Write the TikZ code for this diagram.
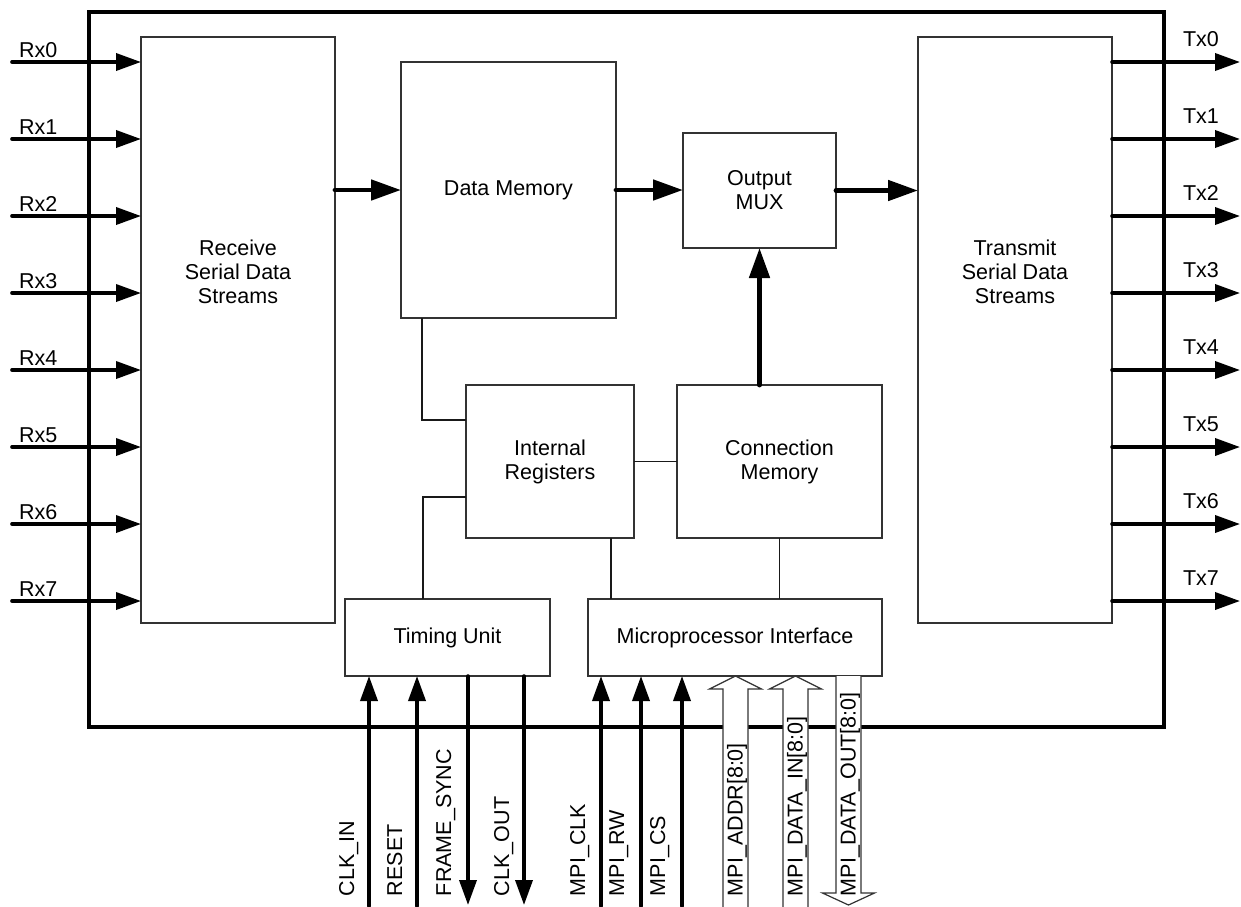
\documentclass[tikz,border=0pt]{standalone}
\usepackage{fontspec}
\setmainfont{Liberation Sans}
\usetikzlibrary{arrows.meta}
\begin{document}
\begin{tikzpicture}[x=1pt,y=-1pt,
  font=\fontsize{21.5}{24}\selectfont,
  box/.style={draw=black!80, line width=1.3pt, inner sep=0pt, outer sep=0pt, align=center},
  chipframe/.style={draw=black, line width=4pt, inner sep=0pt, outer sep=0pt},
  conn/.style={draw=black!90, line width=1.3pt},
  sig/.style={line width=3.6pt, line cap=round, -{Triangle[length=25pt,width=17pt]}},
  bus/.style={line width=4.8pt, line cap=round, -{Triangle[length=30pt,width=20pt]}},
  hollow/.style={draw=black!80, line width=1.2pt, fill=white, line join=miter},
  lbl/.style={inner sep=0pt, outer sep=0pt},
  vlbl/.style={inner sep=0pt, outer sep=0pt, rotate=90, anchor=base west}
]
\useasboundingbox (0,0) rectangle (1241,906);

% outer frame
\node[chipframe, minimum width=1075pt, minimum height=715pt] (chip) at (626.5,369.5) {};

% blocks
\node[box, minimum width=194pt, minimum height=586pt] (recv) at (238,330) {};
\node[lbl, align=center] (recvtxt) at (238,272) {Receive\\Serial Data\\Streams};
\node[box, minimum width=194pt, minimum height=586pt] (trans) at (1015,330) {};
\node[lbl, align=center] (transtxt) at (1015,272) {Transmit\\Serial Data\\Streams};
\node[box, minimum width=215pt, minimum height=256pt] (dmem) at (508.5,190) {Data Memory};
\node[box, minimum width=153pt, minimum height=115pt] (mux) at (759.5,190.5) {Output\\MUX};
\node[box, minimum width=168pt, minimum height=153pt] (ireg) at (550,461.5) {Internal\\Registers};
\node[box, minimum width=205pt, minimum height=153pt] (cmem) at (779.5,461.5) {Connection\\Memory};
\node[box, minimum width=205pt, minimum height=77pt] (timing) at (447.5,637.5) {Timing Unit};
\node[box, minimum width=294pt, minimum height=77pt] (mpi) at (735,637.5) {Microprocessor Interface};

% thin connectors
\coordinate (b1) at (422,420);
\coordinate (b2) at (423,497);
\coordinate (b3) at (611,0);
\draw[conn] (dmem.south -| b1) |- (ireg.west |- b1);
\draw[conn] (timing.north -| b2) |- (ireg.west |- b2);
\draw[conn] (ireg.east) -- (cmem.west);
\draw[conn] (ireg.south -| b3) -- (mpi.north -| b3);
\draw[conn] (cmem.south) -- (cmem.south |- mpi.north);

% data path
\draw[bus] (recv.east |- dmem.west) -- (dmem.west);
\draw[bus] (dmem.east) -- (mux.west |- dmem.east);
\draw[bus] (mux.east) -- (trans.west |- mux.east);
\draw[bus] (mux.south |- cmem.north) -- (mux.south);

% serial inputs and outputs
\foreach \i [evaluate=\i as \yy using 62+77*\i] in {0,...,7}{
  \coordinate (rx\i) at (12,\yy);
  \coordinate (tx\i) at (1240,\yy);
  \draw[sig] (rx\i) -- (recv.west |- rx\i);
  \draw[sig] (trans.east |- tx\i) -- (tx\i);
  \node[lbl, anchor=base west] (rxl\i) at (19,\yy-5) {Rx\i};
  \node[lbl, anchor=base west] (txl\i) at (1183,\yy-16) {Tx\i};
}

% control signals
\coordinate (clkin) at (369,906);
\coordinate (reset) at (417,906);
\coordinate (fsync) at (468,905);
\coordinate (clkout) at (524,905);
\coordinate (mclk) at (601,906);
\coordinate (mrw) at (641,906);
\coordinate (mcs) at (682,906);
\draw[sig] (clkin) -- (timing.south -| clkin);
\draw[sig] (reset) -- (timing.south -| reset);
\draw[sig] (timing.south -| fsync) -- (fsync);
\draw[sig] (timing.south -| clkout) -- (clkout);
\draw[sig] (mclk) -- (mpi.south -| mclk);
\draw[sig] (mrw) -- (mpi.south -| mrw);
\draw[sig] (mcs) -- (mpi.south -| mcs);

\node[vlbl] (lclkin) at (354,896) {CLK\_IN};
\node[vlbl] (lreset) at (402,896) {RESET};
\node[vlbl] (lfsync) at (451,896) {FRAME\_SYNC};
\node[vlbl] (lclkout) at (509,896) {CLK\_OUT};
\node[vlbl] (lmclk) at (585,896) {MPI\_CLK};
\node[vlbl] (lmrw) at (624,896) {MPI\_RW};
\node[vlbl] (lmcs) at (665,896) {MPI\_CS};

% hollow bus arrows
\draw[hollow] (723,908) -- (723,689) -- (709.5,689) -- (735.5,676) -- (761.5,689) -- (748,689) -- (748,908);
\draw[hollow] (783,908) -- (783,689) -- (769.5,689) -- (795.5,676) -- (821.5,689) -- (808,689) -- (808,908);
\draw[hollow] (836,676) -- (836,893) -- (822.5,893) -- (848.5,905) -- (874.5,893) -- (861,893) -- (861,676);
\node[vlbl] (laddr) at (742.5,896) {MPI\_ADDR[8:0]};
\node[vlbl] (ldin) at (802.5,896) {MPI\_DATA\_IN[8:0]};
\node[vlbl] (ldout) at (855.5,896) {MPI\_DATA\_OUT[8:0]};
\end{tikzpicture}
\end{document}
